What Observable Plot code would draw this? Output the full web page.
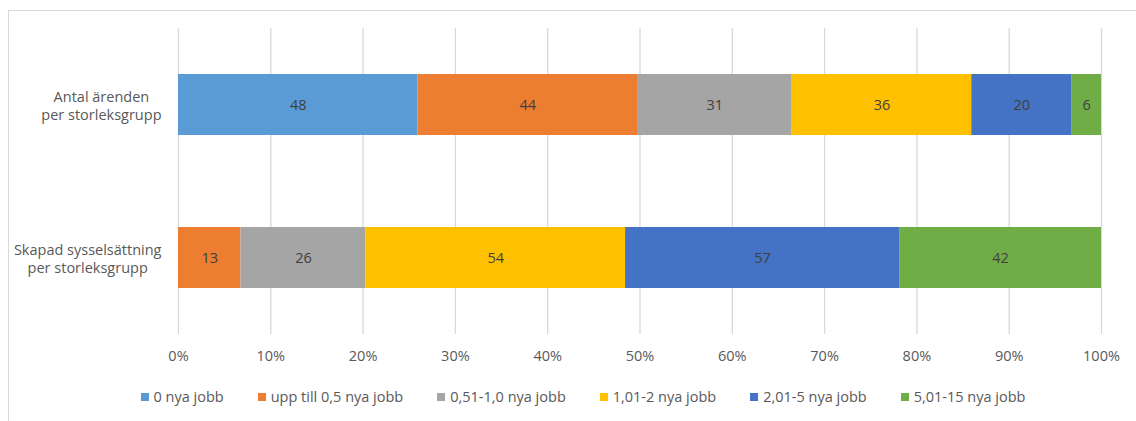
<!DOCTYPE html>
<html>
<head>
<meta charset="utf-8">
<script src="https://cdn.jsdelivr.net/npm/d3@7"></script>
<script src="https://cdn.jsdelivr.net/npm/@observablehq/plot@0.6"></script>
<style>
  body { margin: 0; background: #fff; font-family: "Open Sans", "Noto Sans", sans-serif; }
  #wrap { position: relative; width: 1136px; height: 421px; overflow: hidden; }
  #border { position: absolute; left: 8px; top: 10px; width: 1200px; height: 500px; border-left: 1px solid #d9d9d9; border-top: 1px solid #d9d9d9; }
  #chart { position: absolute; left: 0; top: 0; }
  #legend { position: absolute; left: 0; top: 387px; width: 1136px; display: flex; justify-content: center; padding-left: 30px; box-sizing: border-box; gap: 34px; font-size: 14.5px; color: #595959; }
  .item { display: flex; align-items: center; white-space: nowrap; }
  .sw { width: 8px; height: 8px; margin-right: 5px; }
</style>
</head>
<body>
<div id="wrap">
  <div id="border"></div>
  <div id="chart"></div>
  <div id="legend"></div>
</div>
<script>
const categories = ["Antal ärenden\nper storleksgrupp", "Skapad sysselsättning\nper storleksgrupp"];
const series = ["0 nya jobb", "upp till 0,5 nya jobb", "0,51-1,0 nya jobb", "1,01-2 nya jobb", "2,01-5 nya jobb", "5,01-15 nya jobb"];
const antalArenden = [48, 44, 31, 36, 20, 6];
const skapadSysselsattning = [0, 13, 26, 54, 57, 42];
const colors = ["#5B9BD5", "#ED7D31", "#A5A5A5", "#FFC000", "#4472C4", "#70AD47"];
const xTicks = [0, 0.1, 0.2, 0.3, 0.4, 0.5, 0.6, 0.7, 0.8, 0.9, 1];

const rows = [];
[antalArenden, skapadSysselsattning].forEach((vals, ci) => {
  vals.forEach((v, si) => rows.push({cat: categories[ci], series: series[si], value: v}));
});

const stackOpts = {x: "value", y: "cat", z: "series", order: series, offset: "normalize"};

// measure widest line of each category label so that blocks are right-aligned, lines centered
const fontSpec = "14.5px 'Open Sans'";
const ctx = document.createElement("canvas").getContext("2d");
ctx.font = fontSpec;
const blockW = categories.map(c => Math.max(...c.split("\n").map(l => ctx.measureText(l).width)));

const chart = Plot.plot({
  width: 1136,
  height: 380,
  marginLeft: 178,
  marginRight: 35,
  marginTop: 28,
  marginBottom: 46,
  style: {fontFamily: "'Open Sans', 'Noto Sans', sans-serif", fontSize: "14px", color: "#595959", background: "transparent"},
  x: {domain: [0, 1], ticks: xTicks, tickFormat: d3.format(".0%"), label: null},
  y: {domain: categories, paddingInner: 0.6, paddingOuter: 0.3, label: null, axis: null},
  color: {domain: series, range: colors},
  marks: [
    Plot.gridX(xTicks, {stroke: "#d9d9d9", strokeOpacity: 1, strokeWidth: 1.3}),
    Plot.barX(rows.filter(d => d.value > 0), Plot.stackX({...stackOpts, fill: "series"})),
    Plot.text(rows.filter(d => d.value > 0), Plot.stackX({...stackOpts, text: d => String(d.value), fill: "#404040", fontSize: 14.5})),
    Plot.axisX(xTicks, {tickSize: 0, tickPadding: 16, fill: "#595959", fontSize: 14.5, tickFormat: d3.format(".0%"), label: null}),
    ...categories.map((c, i) => Plot.text([c], {
      y: d => d, text: d => d, frameAnchor: "left", dx: -(17 + blockW[i] / 2),
      textAnchor: "middle", lineAnchor: "middle", lineHeight: 1.25, fill: "#595959", fontSize: 14.5
    }))
  ]
});
document.getElementById("chart").appendChild(chart);

const legend = document.getElementById("legend");
series.forEach((s, i) => {
  const it = document.createElement("div");
  it.className = "item";
  const sw = document.createElement("span");
  sw.className = "sw";
  sw.style.background = colors[i];
  const t = document.createElement("span");
  t.textContent = s;
  it.appendChild(sw); it.appendChild(t);
  legend.appendChild(it);
});
</script>
</body>
</html>
